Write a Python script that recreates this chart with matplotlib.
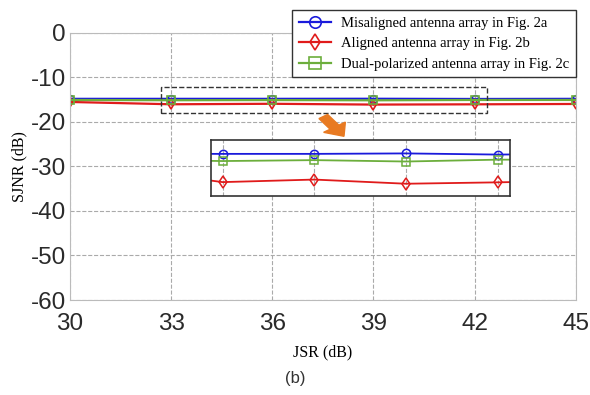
import matplotlib
matplotlib.use("Agg")
import matplotlib.pyplot as plt
from matplotlib.patches import Rectangle, FancyArrow

jsr = [30, 33, 36, 39, 42, 45]
misaligned = [-14.8, -14.8, -14.8, -14.78, -14.83, -14.8]
aligned = [-15.5, -16.02, -15.91, -16.09, -16.03, -15.95]
dual = [-15.05, -15.11, -15.07, -15.13, -15.05, -15.05]
labels = ["Misaligned antenna array in Fig. 2a",
          "Aligned antenna array in Fig. 2b",
          "Dual-polarized antenna array in Fig. 2c"]
xticks = [30, 33, 36, 39, 42, 45]
yticks = [0, -10, -20, -30, -40, -50, -60]

sans = "Liberation Sans"
serif = "Liberation Serif"

fig = plt.figure(figsize=(5.9, 3.95), dpi=100)
ax = fig.add_axes([0.1186, 0.2405, 0.8574, 0.676])

styles = [
    dict(color="#1a1adb", marker="o"),
    dict(color="#e01b1b", marker="d"),
    dict(color="#6cae3c", marker="s"),
]
series = [misaligned, aligned, dual]
for s, st, lab in zip(series, styles, labels):
    ax.plot(jsr, s, color=st["color"], marker=st["marker"], mfc="none",
            mec=st["color"], ms=5.5, mew=1.2, lw=1.6, label=lab)

ax.set_xlim(30, 45)
ax.set_ylim(-60, 0)
ax.set_xticks(xticks)
ax.set_yticks(yticks)
ax.set_xticklabels([str(v) for v in xticks], fontsize=17.5, family=sans, color="#2a2a2a")
ax.set_yticklabels([str(v) for v in yticks], fontsize=17.5, family=sans, color="#2a2a2a")
ax.tick_params(length=0, pad=3)
ax.tick_params(axis="x", pad=9)
ax.grid(True, ls="--", color="#aaaaaa", lw=0.8)
for sp in ax.spines.values():
    sp.set_color("#bbbbbb")
ax.set_xlabel("JSR (dB)", family=serif, fontsize=11.5, labelpad=7)
ax.set_ylabel("SJNR (dB)", family=serif, fontsize=11.5, labelpad=2)

leg = ax.legend(loc="upper right", bbox_to_anchor=(1.0, 1.086), prop={"family": serif, "size": 10.5},
                frameon=True, fancybox=False, edgecolor="#333333", framealpha=1,
                borderpad=0.45, labelspacing=0.5, handlelength=2.2, handletextpad=0.7, borderaxespad=0,
                markerscale=1.5)
leg.get_frame().set_linewidth(1.0)

# dashed zoom rectangle
ax.add_patch(Rectangle((32.7, -18.0), 42.37 - 32.7, 5.9, fill=False, ls="--",
                       ec="#333333", lw=1.0, zorder=5))

# orange arrow
fig.patches.append(FancyArrow(0.548, 0.705, 0.035, -0.050, width=0.018, head_width=0.045,
                              head_length=0.028, color="#e87a22", transform=fig.transFigure,
                              length_includes_head=True))

# inset
ins = fig.add_axes([0.3576, 0.5038, 0.5068, 0.1418])
for s, st in zip(series, styles):
    ins.plot(jsr, s, color=st["color"], marker=st["marker"], mfc="none",
             mec=st["color"], ms=6, mew=1.1, lw=1.3)
ins.set_xlim(32.62, 42.4)
ins.set_ylim(-16.62, -14.2)
ins.set_xticks([33, 36, 39, 42])
ins.set_yticks([])
ins.tick_params(length=0, labelbottom=False, labelleft=False)
ins.grid(True, axis="x", ls="--", color="#aaaaaa", lw=0.8)
for sp in ins.spines.values():
    sp.set_color("#333333")
    sp.set_linewidth(1.2)

fig.text(0.5, 0.043, "(b)", ha="center", va="center", family=sans, fontsize=12, color="#333333")

fig.savefig("out.png", dpi=100)
